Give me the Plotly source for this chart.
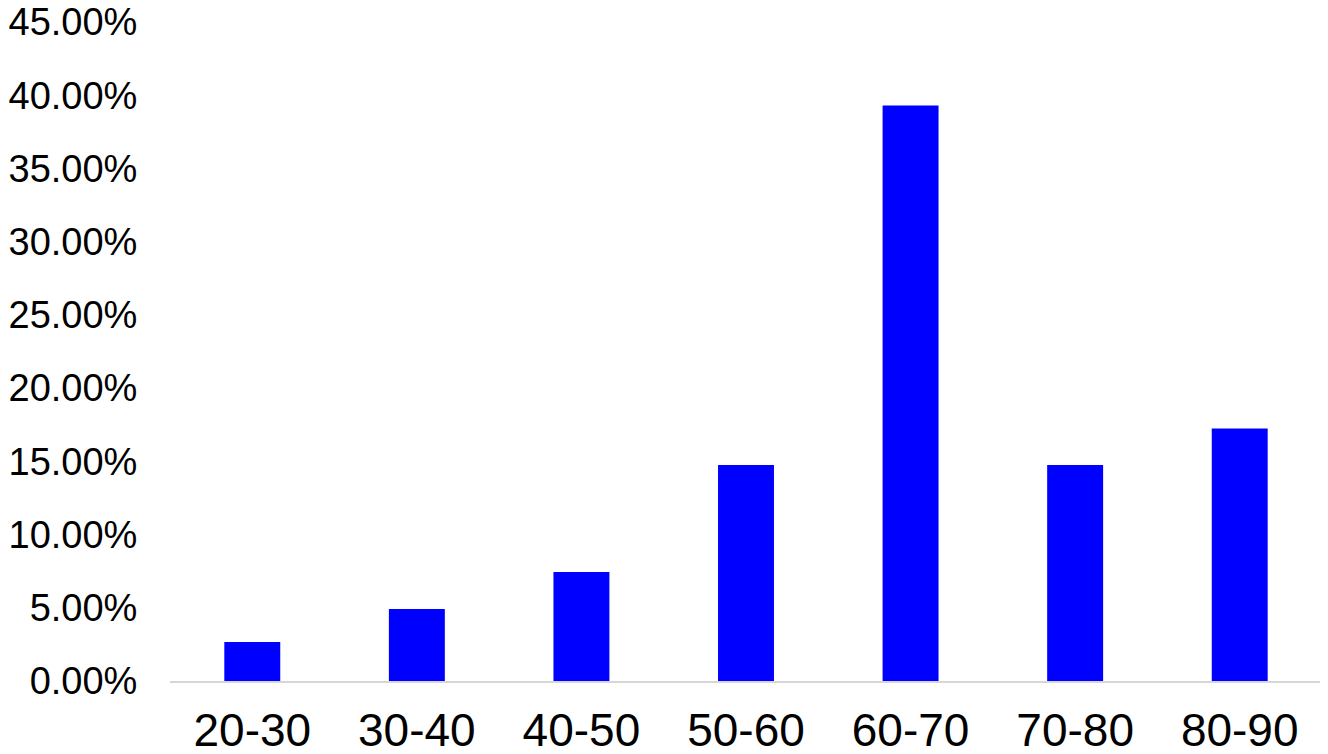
import plotly.graph_objects as go

# age groups and share of patients (%)
age_groups = ["20-30", "30-40", "40-50", "50-60", "60-70", "70-80", "80-90"]
share_pct = [2.66, 4.92, 7.45, 14.75, 39.3, 14.75, 17.25]
y_ticks = [0, 5, 10, 15, 20, 25, 30, 35, 40, 45]

fig = go.Figure()
fig.add_trace(go.Bar(
    x=age_groups, y=share_pct,
    marker=dict(color="#0000FF", line=dict(width=0)),
))

# page body has an 8px margin, so margins are shifted to compensate
fig.update_layout(
    width=1328, height=754,
    margin=dict(l=162, r=14, t=14, b=81),
    plot_bgcolor="white", paper_bgcolor="white",
    font=dict(family="Liberation Sans, Arial, Helvetica, sans-serif", color="black"),
    bargap=0.66,
    showlegend=False,
)
fig.update_yaxes(
    range=[0, 45.001], tickvals=y_ticks,
    ticktext=[f"{v:.2f}%" for v in y_ticks],
    showgrid=False, zeroline=False, showline=False,
    ticks="outside", ticklen=24, tickcolor="rgba(0,0,0,0)",
    tickfont=dict(size=38), automargin=False, ticklabeloverflow="allow",
)
fig.update_xaxes(
    showgrid=False, showline=True, linecolor="#d6d6d6", linewidth=2,
    ticks="outside", ticklen=8, tickcolor="rgba(0,0,0,0)",
    tickfont=dict(size=46), automargin=False,
)

fig.write_html("out.html")
